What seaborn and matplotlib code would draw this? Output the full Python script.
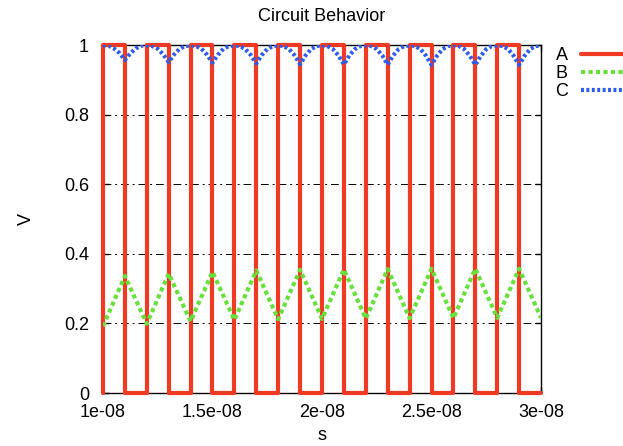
import numpy as np
import matplotlib
matplotlib.use("Agg")
import matplotlib.pyplot as plt
import seaborn as sns

# signal A: square wave, edge times (ns) and level held after each edge
a_times_ns = [10, 10, 11, 12, 13, 14, 15, 16, 17, 18, 19, 20,
              21, 22, 23, 24, 25, 26, 27, 28, 29, 30]
a_levels = [0, 1, 0, 1, 0, 1, 0, 1, 0, 1, 0, 1,
            0, 1, 0, 1, 0, 1, 0, 1, 0, 0]

# signal B: triangle between ~0.2 and ~0.35
b_times_ns = [10, 11, 12, 13, 14, 15, 16, 17, 18, 19, 20,
              21, 22, 23, 24, 25, 26, 27, 28, 29, 30]
b_volts = [0.192, 0.336, 0.199, 0.343, 0.206, 0.348, 0.210, 0.352, 0.212, 0.354, 0.213,
           0.355, 0.214, 0.356, 0.215, 0.357, 0.215, 0.357, 0.216, 0.357, 0.216]

# signal C: near 1 V with cusps where A falls
c_times_ns = [10, 10.25, 10.5, 10.75, 11, 11.25, 11.5, 11.75,
              12, 12.25, 12.5, 12.75, 13, 13.25, 13.5, 13.75,
              14, 14.25, 14.5, 14.75, 15, 15.25, 15.5, 15.75,
              16, 16.25, 16.5, 16.75, 17, 17.25, 17.5, 17.75,
              18, 18.25, 18.5, 18.75, 19, 19.25, 19.5, 19.75,
              20, 20.25, 20.5, 20.75, 21, 21.25, 21.5, 21.75,
              22, 22.25, 22.5, 22.75, 23, 23.25, 23.5, 23.75,
              24, 24.25, 24.5, 24.75, 25, 25.25, 25.5, 25.75,
              26, 26.25, 26.5, 26.75, 27, 27.25, 27.5, 27.75,
              28, 28.25, 28.5, 28.75, 29, 29.25, 29.5, 29.75,
              30]
c_volts = [0.999, 0.998, 0.990, 0.977, 0.957, 0.976, 0.990, 0.998,
           0.999, 0.997, 0.989, 0.973, 0.951, 0.973, 0.989, 0.997,
           0.999, 0.997, 0.989, 0.972, 0.949, 0.972, 0.989, 0.997,
           0.999, 0.997, 0.988, 0.971, 0.947, 0.971, 0.988, 0.997,
           0.999, 0.997, 0.988, 0.970, 0.945, 0.970, 0.988, 0.997,
           0.999, 0.997, 0.988, 0.970, 0.944, 0.970, 0.988, 0.997,
           0.999, 0.997, 0.988, 0.970, 0.944, 0.970, 0.988, 0.997,
           0.999, 0.997, 0.988, 0.969, 0.943, 0.969, 0.988, 0.997,
           0.999, 0.997, 0.988, 0.969, 0.943, 0.969, 0.988, 0.997,
           0.999, 0.997, 0.988, 0.969, 0.943, 0.969, 0.988, 0.997,
           0.999]

x_ticks = [1e-8, 1.5e-8, 2e-8, 2.5e-8, 3e-8]
x_ticklabels = ["1e-08", "1.5e-08", "2e-08", "2.5e-08", "3e-08"]
y_ticks = [0, 0.2, 0.4, 0.6, 0.8, 1]
y_ticklabels = ["0", "0.2", "0.4", "0.6", "0.8", "1"]

sns.set_style("white")
plt.rcParams["font.family"] = ["Liberation Sans", "DejaVu Sans"]
plt.rcParams["text.color"] = "black"
plt.rcParams["axes.labelcolor"] = "black"

fig = plt.figure(figsize=(6.23, 4.46), dpi=100)
ax = fig.add_axes([0.1653, 0.1188, 0.7031, 0.7803])

ns = 1e-9
sns.lineplot(x=np.array(a_times_ns) * ns, y=a_levels, ax=ax, estimator=None, sort=False,
             color="#f03a24", lw=3, drawstyle="steps-post", clip_on=False, label="A", zorder=3)
sns.lineplot(x=np.array(b_times_ns) * ns, y=b_volts, ax=ax, estimator=None, sort=False,
             color="#66e03a", lw=3, linestyle=(0, (1, 0.8)), label="B", zorder=4)
sns.lineplot(x=np.array(c_times_ns) * ns, y=c_volts, ax=ax, estimator=None, sort=False,
             color="#2a5cf0", lw=3, linestyle=(0, (0.7, 0.6)), label="C", zorder=5)

ax.set_xlim(1e-8, 3e-8)
ax.set_ylim(0, 1)
ax.set_xticks(x_ticks)
ax.set_xticklabels(x_ticklabels)
ax.set_yticks(y_ticks)
ax.set_yticklabels(y_ticklabels)
ax.tick_params(direction="in", length=4, width=1, labelsize=13, colors="black",
               top=True, right=True, bottom=True, left=True)
ax.tick_params(axis="x", pad=8)
ax.tick_params(axis="y", pad=10)

ax.yaxis.grid(True, color="black", lw=0.7, linestyle=(0, (8, 4, 2, 4)))
ax.xaxis.grid(False)
for sp in ax.spines.values():
    sp.set_color("black")
    sp.set_linewidth(1)
    sp.set_visible(True)

ax.set_title("Circuit Behavior", fontsize=13, pad=17, color="black")
ax.set_xlabel("s", fontsize=13)
ax.set_ylabel("V", fontsize=13)
ax.xaxis.set_label_coords(0.5, -0.098)
ax.yaxis.set_label_coords(-0.155, 0.5)

handles, labels = ax.get_legend_handles_labels()
ax.get_legend().remove()
fig.legend(handles, labels, loc="upper left", bbox_to_anchor=(0.891, 0.894),
           frameon=False, markerfirst=False, fontsize=13, handlelength=4,
           handletextpad=0.7, labelspacing=0.05, borderpad=0, borderaxespad=0,
           labelcolor="black")

fig.savefig("out.png", dpi=100)
